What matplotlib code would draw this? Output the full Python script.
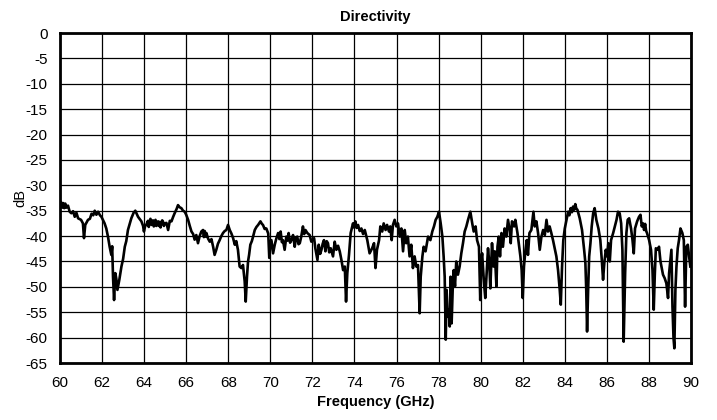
import matplotlib.pyplot as plt
import numpy as np

freq_ghz = [
    60.00, 60.05, 60.10, 60.15, 60.20, 60.25, 60.30, 60.38, 60.46, 60.54,
    60.62, 60.70, 60.78, 60.86, 61.00, 61.09,
    61.14, 61.20, 61.33, 61.42, 61.50, 61.58, 61.65, 61.73, 61.81, 61.90, 61.97, 62.12, 62.20,
    62.28, 62.36, 62.44, 62.48, 62.52, 62.57, 62.63, 62.68, 62.73, 62.82,
    62.92, 63.00, 63.08, 63.15, 63.23, 63.39, 63.50, 63.58, 63.71, 63.87,
    63.95, 63.99, 64.05, 64.10, 64.18, 64.22, 64.26, 64.30, 64.35, 64.42, 64.46, 64.50, 64.54, 64.58,
    64.66, 64.70, 64.74, 64.78, 64.82, 64.86, 64.90, 64.94, 64.98,
    65.06, 65.14, 65.22, 65.30, 65.38, 65.45, 65.55, 65.61, 65.68, 65.77,
    65.85, 65.93, 66.00, 66.09, 66.17, 66.25, 66.33, 66.40, 66.48, 66.56,
    66.64, 66.72, 66.80, 66.84, 66.88, 66.92, 66.96, 67.04, 67.12, 67.20, 67.28, 67.35,
    67.43, 67.51, 67.59, 67.67, 67.75, 67.83, 67.91, 67.99, 68.07, 68.15,
    68.23, 68.31, 68.38, 68.46, 68.54, 68.62, 68.70, 68.78, 68.83, 68.89,
    68.94, 68.99, 69.05, 69.12, 69.18, 69.26, 69.34, 69.42, 69.53, 69.60,
    69.65, 69.73, 69.81, 69.90, 69.95, 70.00,
    70.05, 70.13, 70.21, 70.29, 70.37, 70.43, 70.49, 70.55, 70.60, 70.68, 70.76, 70.82, 70.87,
    70.94, 71.00, 71.08, 71.16, 71.22, 71.28, 71.34, 71.40, 71.47, 71.55, 71.61, 71.67, 71.76, 71.87,
    71.95, 72.08, 72.14, 72.24, 72.30, 72.37, 72.43, 72.49, 72.55, 72.62, 72.68, 72.74, 72.80, 72.87,
    72.98, 73.06, 73.14, 73.22, 73.30, 73.38, 73.46, 73.54, 73.60, 73.66, 73.74,
    73.82, 73.93, 73.98, 74.04, 74.10, 74.17, 74.25, 74.33, 74.41, 74.49, 74.61, 74.72, 74.84, 74.93,
    75.00,
    75.07, 75.17, 75.23, 75.32, 75.39, 75.48, 75.55, 75.64, 75.70, 75.77,
    75.83, 75.91, 75.99, 76.07, 76.15, 76.23, 76.31, 76.39, 76.46, 76.54,
    76.62, 76.70, 76.78, 76.86, 76.94, 77.02, 77.10, 77.15, 77.23, 77.29,
    77.38, 77.50, 77.61, 77.70, 77.78, 77.86, 77.94, 78.02, 78.10, 78.18,
    78.24, 78.29, 78.34, 78.38, 78.43, 78.48, 78.53, 78.57, 78.62, 78.67,
    78.72, 78.78, 78.84, 78.92, 79.00, 79.08, 79.16, 79.24, 79.32, 79.40,
    79.51, 79.60, 79.67, 79.76, 79.83, 79.92, 79.98, 80.03,
    80.07, 80.16, 80.22, 80.29, 80.35, 80.41, 80.46, 80.54, 80.61, 80.67,
    80.75, 80.80, 80.86, 80.92, 80.99, 81.06, 81.14, 81.22, 81.30, 81.38,
    81.43, 81.49, 81.59, 81.65, 81.75, 81.81, 81.89, 81.95, 82.00, 82.06,
    82.13, 82.19, 82.25, 82.32, 82.41, 82.51, 82.57, 82.65, 82.73, 82.81,
    82.89, 82.97, 83.05, 83.13, 83.20, 83.28, 83.36, 83.44, 83.52, 83.60,
    83.68, 83.76, 83.81, 83.87, 83.93, 84.00, 84.08, 84.16, 84.22, 84.28, 84.34, 84.39,
    84.45, 84.50, 84.55, 84.60, 84.71, 84.82, 84.92, 84.98, 85.02, 85.06,
    85.11, 85.16, 85.22, 85.28, 85.35, 85.42, 85.50, 85.60, 85.69, 85.76,
    85.82, 85.88, 85.95, 86.01, 86.07, 86.14, 86.20, 86.30, 86.38, 86.46,
    86.53, 86.61, 86.68, 86.74, 86.80, 86.87, 86.93, 86.99, 87.06, 87.15,
    87.22, 87.28, 87.34, 87.44, 87.53, 87.60, 87.66, 87.72, 87.77, 87.82, 87.87, 87.91,
    88.01, 88.10, 88.17, 88.23, 88.28, 88.33, 88.42, 88.48, 88.55, 88.61,
    88.67, 88.75, 88.83, 88.91, 88.96, 89.02, 89.07, 89.12, 89.17, 89.21,
    89.26, 89.31, 89.37, 89.43, 89.50, 89.59, 89.66, 89.72, 89.78, 89.85,
    89.91, 89.97,
]

directivity_db = [
    -33.9, -33.3, -34.4, -33.5, -34.5, -33.6, -34.4, -34.0, -35.2, -35.5,
    -35.1, -36.2, -35.4, -36.5, -36.8, -37.5,
    -40.4, -37.8, -36.8, -36.6, -35.6, -35.9, -35.0, -35.8, -35.2, -35.9, -36.2, -37.5, -38.5,
    -40.1, -42.1, -43.7, -42.0, -48.0, -52.6, -47.3, -48.5, -50.6, -48.6,
    -46.0, -44.5, -42.1, -41.0, -38.8, -36.5, -35.4, -35.0, -36.2, -37.1,
    -38.0, -39.1, -38.0, -37.8, -37.0, -38.2, -37.1, -36.6, -37.8, -36.9, -38.1, -37.2, -36.8, -38.0,
    -37.1, -38.0, -37.2, -38.3, -37.4, -36.9, -37.2, -38.0, -37.5,
    -37.4, -38.8, -37.0, -37.1, -36.2, -35.5, -34.6, -33.9, -34.3, -34.5,
    -35.0, -35.2, -35.8, -36.8, -38.0, -39.1, -39.6, -40.7, -39.8, -41.4,
    -40.0, -39.1, -38.8, -40.2, -39.0, -40.1, -39.4, -40.5, -41.1, -40.6, -42.1, -43.7,
    -42.7, -41.5, -40.8, -40.0, -39.4, -39.0, -38.8, -37.8, -38.8, -39.5,
    -40.4, -41.7, -41.0, -42.7, -46.0, -46.3, -45.7, -48.9, -52.9, -48.0,
    -45.0, -43.7, -41.7, -41.0, -40.1, -38.8, -38.2, -37.8, -37.1, -37.6,
    -37.8, -38.6, -38.5, -39.5, -44.3, -41.0,
    -40.8, -43.4, -41.7, -40.4, -39.4, -40.6, -39.1, -41.2, -40.8, -42.7, -40.1, -40.9, -39.4,
    -41.3, -40.8, -39.8, -42.1, -40.3, -40.1, -41.6, -41.4, -40.1, -38.1, -39.6, -38.8, -39.4, -39.8,
    -41.1, -40.4, -42.4, -44.7, -41.7, -43.5, -42.7, -41.5, -40.8, -43.0, -41.0, -41.4, -43.2, -42.4,
    -44.0, -41.1, -42.7, -41.9, -43.0, -44.7, -46.7, -46.0, -52.9, -47.3, -43.7,
    -39.4, -37.5, -38.3, -37.1, -38.4, -37.8, -39.0, -38.5, -39.6, -38.8, -40.8, -43.4, -42.4, -41.4,
    -46.3,
    -42.7, -40.8, -38.1, -39.1, -37.5, -38.8, -37.8, -39.1, -38.1, -40.8,
    -37.8, -36.8, -38.1, -37.5, -40.1, -38.5, -43.0, -38.8, -41.4, -40.1,
    -44.0, -41.7, -46.3, -44.0, -46.0, -45.7, -55.2, -48.0, -44.0, -42.1,
    -43.0, -40.1, -40.8, -39.1, -38.1, -36.8, -36.2, -35.2, -37.5, -40.1,
    -44.0, -48.0, -60.4, -50.6, -55.8, -54.5, -57.8, -48.0, -57.2, -50.6,
    -46.7, -49.9, -45.0, -47.6, -46.0, -43.4, -41.4, -39.1, -38.1, -36.8,
    -35.2, -37.5, -39.1, -38.1, -40.8, -42.1, -52.6, -44.7,
    -43.4, -49.3, -52.2, -46.7, -42.4, -45.3, -50.3, -41.4, -46.0, -43.0,
    -49.9, -42.1, -40.1, -44.0, -39.4, -42.1, -38.5, -40.1, -36.8, -38.8,
    -41.4, -37.1, -38.1, -36.8, -39.4, -41.4, -44.0, -46.7, -52.2, -46.0,
    -42.7, -40.8, -43.7, -39.4, -38.8, -35.2, -38.1, -37.1, -39.4, -42.7,
    -40.1, -38.8, -39.8, -36.8, -39.1, -38.1, -39.4, -40.8, -42.4, -44.0,
    -46.7, -50.6, -53.5, -46.0, -40.8, -38.5, -36.8, -35.2, -35.9, -34.5, -35.3, -34.2,
    -34.8, -33.7, -34.6, -34.8, -36.5, -38.8, -42.7, -45.3, -50.6, -58.8,
    -50.6, -44.0, -41.4, -38.1, -35.5, -34.5, -36.8, -38.5, -40.8, -44.7,
    -48.6, -45.3, -42.7, -44.0, -41.4, -45.0, -40.8, -39.4, -38.1, -36.8,
    -35.2, -35.5, -37.5, -42.7, -60.8, -47.3, -39.4, -36.8, -36.5, -38.5,
    -40.8, -43.4, -38.5, -37.1, -36.2, -35.8, -38.1, -37.5, -38.8, -37.6, -39.0, -39.4,
    -40.8, -42.7, -46.7, -54.5, -47.6, -42.4, -42.7, -42.1, -45.0, -46.3,
    -47.6, -48.3, -49.3, -52.2, -47.3, -44.7, -42.7, -53.9, -60.1, -62.1,
    -50.6, -46.0, -42.4, -40.8, -38.5, -39.4, -40.8, -53.9, -42.1, -41.7,
    -44.0, -46.0,
]

x_ticks = np.arange(60, 91, 2)
y_ticks = np.arange(-65, 1, 5)

plt.rcParams['font.family'] = ['Liberation Sans', 'DejaVu Sans']
plt.rcParams['axes.unicode_minus'] = False

fig = plt.figure(figsize=(7.17, 4.2), dpi=100)
ax = fig.add_axes([0.0837, 0.1357, 0.88, 0.7857])

ax.plot(freq_ghz, directivity_db, color='black', lw=1.9)

ax.set_xlim(60, 90)
ax.set_ylim(-65, 0)
ax.set_xticks(x_ticks)
ax.set_yticks(y_ticks)
ax.tick_params(axis='both', length=0, labelsize=11)
ax.tick_params(axis='x', pad=9)
ax.tick_params(axis='y', pad=9)
ax.grid(True, color='black', lw=0.9)
ax.set_axisbelow(True)
for s in ax.spines.values():
    s.set_linewidth(2)

ax.set_title('Directivity', fontsize=10.5, fontweight='bold', pad=9)
ax.set_xlabel('Frequency (GHz)', fontsize=10.5, fontweight='bold', labelpad=4)
ax.set_ylabel('dB', fontsize=10.5)
ax.yaxis.set_label_coords(-0.052, 0.5)

fig.savefig('out.png', dpi=100)
